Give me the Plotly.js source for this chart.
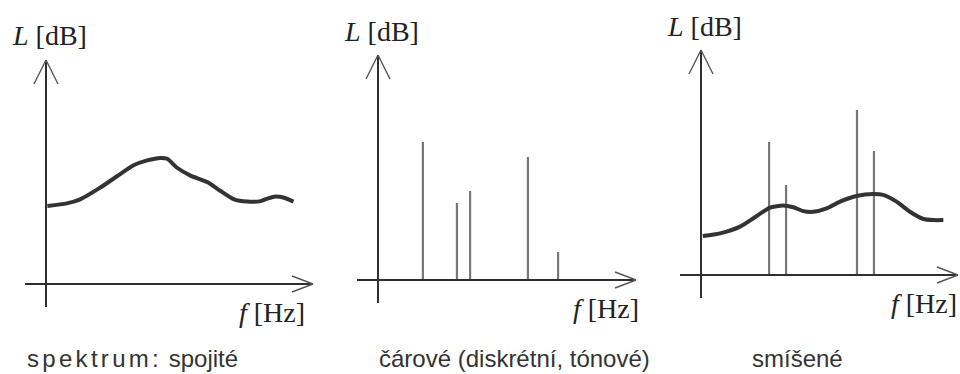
<!DOCTYPE html>
<html><head><meta charset="utf-8">
<script src="https://cdn.plot.ly/plotly-3.0.1.min.js"></script>
<style>body{margin:0;background:#fff}#chart{width:960px;height:374px}</style>
</head><body><div id="chart"></div>
<script>
// Panel 1: continuous spectrum (frequency, level in arbitrary units; axis tip = 10)
const contFreq  = [0.05,0.78,1.28,2.03,2.66,3.28,3.79,4.29,4.54,4.91,5.41,6.04,6.54,7.04,7.54,8.04,8.29,8.54,8.92,9.27];
const contLevel = [3.48,3.60,3.78,4.30,4.81,5.30,5.52,5.63,5.59,5.19,4.84,4.55,4.15,3.78,3.68,3.70,3.81,3.90,3.85,3.68];
// Panel 2: line (tonal) spectrum
const lineFreq  = [1.74,3.06,3.57,5.81,6.98];
const lineLevel = [6.13,3.42,3.96,5.47,1.24];
// Panel 3: mixed spectrum
const mixFreq  = [0.07,0.74,1.52,2.04,2.68,3.20,3.59,3.98,4.37,4.89,5.41,6.05,6.70,7.09,7.61,8.13,8.65,9.04,9.43];
const mixLevel = [1.73,1.85,2.15,2.52,2.99,3.09,3.01,2.84,2.81,2.96,3.26,3.51,3.60,3.56,3.26,2.81,2.49,2.44,2.44];
const mixToneFreq  = [2.65,3.31,6.07,6.73];
const mixToneLevel = [5.91,4.00,7.33,5.51];
// Texts
const yLabel = '<i>L</i> [dB]';
const xLabel = '<i>f</i> [Hz]';
const captions = ['<span style="letter-spacing:3.3px">spektrum:</span> spojité', 'čárové (diskrétní, tónové)', 'smíšené'];

const W = 960, H = 374;
// panel geometry (pixels): origin, scale per unit, axis extents, label placement
const panels = [
  {ox: 46,  oy: 284, sx: 26.7, sy: 22.4, xStart: 25,  yBottom: 307, fRight: 307, cap: {x: 25,  anchor: 'left'}},
  {ox: 378, oy: 280, sx: 25.8, sy: 22.5, xStart: 357, yBottom: 303, fRight: 641, cap: {x: 377, anchor: 'left'}},
  {ox: 701, oy: 275, sx: 25.7, sy: 22.5, xStart: 680, yBottom: 298, fRight: 959, cap: {x: 797, anchor: 'center'}}
];

function stems(xs, ys) {
  const x = [], y = [];
  xs.forEach((v, i) => { x.push(v, v, null); y.push(0, ys[i], null); });
  return {x, y};
}

const layout = {
  width: W, height: H, margin: {l: 0, r: 0, t: 0, b: 0},
  paper_bgcolor: '#fff', plot_bgcolor: 'rgba(0,0,0,0)', showlegend: false,
  shapes: [], annotations: []
};
const axColor = '#2e2e2e';
const serif = 'Liberation Serif, Times New Roman, serif';
panels.forEach((p, i) => {
  const sfx = i === 0 ? '' : String(i + 1);
  const dl = Math.max(0, p.ox - 1.0 * p.sx), dr = Math.min(W, p.ox + 10.2 * p.sx);
  const dt = p.oy - 10.5 * p.sy, db = p.oy + 1.3 * p.sy;
  const common = {showgrid: false, zeroline: false, showticklabels: false, ticks: '', showline: false, fixedrange: true};
  layout['xaxis' + sfx] = Object.assign({domain: [dl / W, dr / W], range: [(dl - p.ox) / p.sx, (dr - p.ox) / p.sx], anchor: 'y' + sfx}, common);
  layout['yaxis' + sfx] = Object.assign({domain: [1 - db / H, 1 - dt / H], range: [(p.oy - db) / p.sy, (p.oy - dt) / p.sy], anchor: 'x' + sfx}, common);
  const xr = 'x' + sfx, yr = 'y' + sfx;
  // axis lines
  layout.shapes.push({type: 'line', xref: xr, yref: yr, x0: (p.xStart - p.ox) / p.sx, x1: 10, y0: 0, y1: 0, line: {color: axColor, width: 2}});
  layout.shapes.push({type: 'line', xref: xr, yref: yr, x0: 0, x1: 0, y0: -(p.yBottom - p.oy) / p.sy, y1: 10, line: {color: axColor, width: 2}});
  // open arrowheads
  const ax = 12 / p.sx, ay = 24 / p.sy, bx = 21 / p.sx, by = 8 / p.sy;
  layout.shapes.push({type: 'line', xref: xr, yref: yr, x0: 0, y0: 10, x1: -ax, y1: 10 - ay, line: {color: '#555', width: 1.4}});
  layout.shapes.push({type: 'line', xref: xr, yref: yr, x0: 0, y0: 10, x1: ax, y1: 10 - ay, line: {color: '#555', width: 1.4}});
  layout.shapes.push({type: 'line', xref: xr, yref: yr, x0: 10, y0: 0, x1: 10 - bx, y1: by, line: {color: '#555', width: 1.4}});
  layout.shapes.push({type: 'line', xref: xr, yref: yr, x0: 10, y0: 0, x1: 10 - bx, y1: -by, line: {color: '#555', width: 1.4}});
  // labels
  layout.annotations.push({xref: 'paper', yref: 'paper', x: (p.ox + 3) / W, y: 1 - (p.oy - 10 * p.sy - 24) / H, xanchor: 'center', yanchor: 'middle', showarrow: false, text: yLabel, font: {family: serif, size: 28, color: '#222'}});
  layout.annotations.push({xref: 'paper', yref: 'paper', x: p.fRight / W, y: 1 - (p.oy + 28) / H, xanchor: 'right', yanchor: 'middle', showarrow: false, text: xLabel, font: {family: serif, size: 28, color: '#222'}});
  layout.annotations.push({xref: 'paper', yref: 'paper', x: p.cap.x / W, y: 1 - 358 / H, xanchor: p.cap.anchor, yanchor: 'middle', showarrow: false, text: captions[i], font: {family: 'Liberation Sans, Arial, sans-serif', size: 24, color: '#333'}});
});

const curveStyle = {color: '#333', width: 4, shape: 'spline', smoothing: 0.6};
const stemStyle = {color: '#777', width: 2.2};
const s2 = stems(lineFreq, lineLevel), s3 = stems(mixToneFreq, mixToneLevel);
const data = [
  {type: 'scatter', mode: 'lines', x: contFreq, y: contLevel, xaxis: 'x', yaxis: 'y', line: curveStyle, hoverinfo: 'skip'},
  {type: 'scatter', mode: 'lines', x: s2.x, y: s2.y, xaxis: 'x2', yaxis: 'y2', line: stemStyle, connectgaps: false, hoverinfo: 'skip'},
  {type: 'scatter', mode: 'lines', x: s3.x, y: s3.y, xaxis: 'x3', yaxis: 'y3', line: stemStyle, connectgaps: false, hoverinfo: 'skip'},
  {type: 'scatter', mode: 'lines', x: mixFreq, y: mixLevel, xaxis: 'x3', yaxis: 'y3', line: curveStyle, hoverinfo: 'skip'}
];
Plotly.newPlot('chart', data, layout, {displayModeBar: false, staticPlot: true});
</script></body></html>
